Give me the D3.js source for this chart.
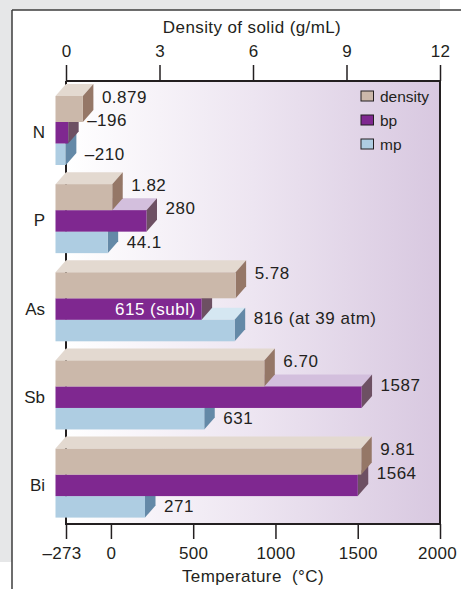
<!DOCTYPE html>
<html>
<head>
<meta charset="utf-8">
<script src="https://cdn.jsdelivr.net/npm/d3@7"></script>
<style>
  html, body { margin: 0; padding: 0; background: #ffffff; }
  svg { display: block; font-family: Arial, "Liberation Sans", Helvetica, sans-serif; }
</style>
</head>
<body>
<svg id="chart" width="461" height="589"></svg>
<script>
// ---- data ----
const elements = ["N", "P", "As", "Sb", "Bi"];
const density = [0.879, 1.82, 5.78, 6.70, 9.81];
const densityLabels = ["0.879", "1.82", "5.78", "6.70", "9.81"];
const bp = [-196, 280, 615, 1587, 1564];
const bpLabels = ["\u2013196", "280", "615 (subl)", "1587", "1564"];
const mp = [-210, 44.1, 816, 631, 271];
const mpLabels = ["\u2013210", "44.1", "816 (at 39 atm)", "631", "271"];
const densityTicks = [0, 3, 6, 9, 12];
const tempTicks = [-273, 0, 500, 1000, 1500, 2000];
const tempTickLabels = ["\u2013273", "0", "500", "1000", "1500", "2000"];
const seriesNames = ["density", "bp", "mp"];

// ---- layout ----
const svg = d3.select("#chart");
const W = 461, H = 589;
const pLeft = 66, pRight = 440, pTop = 81, pBottom = 524;
const ink = "#231f20";

const xD = d3.scaleLinear().domain([0, 12]).range([pLeft, pRight]);
const xT = d3.scaleLinear().domain([-273, 2000]).range([pLeft, pRight]);
const yB = d3.scaleBand().domain(elements).range([pTop, 521.75]).padding(0);

const DX = 10.5, DY = 12;

const colors = {
  density: { front: "#cbb8aa", top: "#e3d9d0", side: "#957767" },
  bp:      { front: "#7f2890", top: "#d3bfdd", side: "#6d5063" },
  mp:      { front: "#aecde2", top: "#d5e7f2", side: "#6489a7" }
};

// card background
svg.append("rect").attr("x", 0).attr("y", 0).attr("width", 440).attr("height", 10).attr("fill", "#e6e7e8");
svg.append("rect").attr("x", 0).attr("y", 0).attr("width", 12).attr("height", 562).attr("fill", "#e6e7e8");
svg.append("line").attr("x1", 12).attr("x2", 12).attr("y1", 10).attr("y2", H).attr("stroke", "#3d3d3d").attr("stroke-width", 1.5);
svg.append("line").attr("x1", 12).attr("x2", W).attr("y1", 10).attr("y2", 10).attr("stroke", "#3d3d3d").attr("stroke-width", 1.5);

// plot gradient
const defs = svg.append("defs");
const grad = defs.append("linearGradient").attr("id", "bg").attr("x1", "0").attr("x2", "1").attr("y1", "0").attr("y2", "0");
grad.append("stop").attr("offset", "0").attr("stop-color", "#ffffff");
grad.append("stop").attr("offset", "0.5").attr("stop-color", "#ede5f1");
grad.append("stop").attr("offset", "1").attr("stop-color", "#d8c8e0");
svg.append("rect").attr("x", pLeft).attr("y", pTop).attr("width", pRight - pLeft).attr("height", pBottom - pTop).attr("fill", "url(#bg)");

// left axis line (behind bars)
svg.append("line").attr("x1", pLeft).attr("x2", pLeft).attr("y1", pTop).attr("y2", pBottom + 1).attr("stroke", ink).attr("stroke-width", 2);

// frame top/right/bottom
svg.append("path")
  .attr("d", `M${pLeft},${pTop}H${pRight}V${pBottom}H${pLeft - 1}`)
  .attr("fill", "none").attr("stroke", ink).attr("stroke-width", 2);

// ---- bars ----
const rows = elements.map((el, i) => ({
  el,
  b: yB(el),
  items: [
    { key: "density", xEnd: xD(density[i]), label: densityLabels[i], y0: 15, h: 26 },
    { key: "bp", xEnd: xT(bp[i]), label: bpLabels[i], y0: 41, h: 21.5, inside: bpLabels[i].includes("subl") },
    { key: "mp", xEnd: xT(mp[i]), label: mpLabels[i], y0: 62.5, h: 21.5, front: mp[i] < bp[i] }
  ]
}));

const gBars = svg.append("g");
rows.forEach(r => {
  // draw mp, then bp, then density so upper bars occlude faces behind
  [2, 1, 0].forEach(k => {
    const it = r.items[k];
    const c = colors[it.key];
    const x0 = pLeft - DX;            // front-face left
    const x1 = it.xEnd - DX;          // front-face right
    const yt = r.b + it.y0, yb = yt + it.h;
    const g = gBars.append("g");
    g.append("path").attr("d", `M${x0},${yt}L${x0 + DX},${yt - DY}L${x1 + DX},${yt - DY}L${x1},${yt}Z`).attr("fill", c.top);
    g.append("path").attr("d", `M${x1},${yt}L${x1 + DX},${yt - DY}L${x1 + DX},${yb - DY}L${x1},${yb}Z`).attr("fill", c.side);
    g.append("rect").attr("x", x0).attr("y", yt).attr("width", x1 - x0).attr("height", it.h).attr("fill", c.front);
  });
});

// value labels
const gLab = svg.append("g").attr("font-size", 17).attr("letter-spacing", "0.5px").attr("fill", ink);
rows.forEach(r => {
  r.items.forEach(it => {
    const yt = r.b + it.y0;
    if (it.inside) {
      gLab.append("text").attr("x", it.xEnd - DX - 6).attr("y", yt + it.h / 2)
        .attr("text-anchor", "end").attr("dominant-baseline", "central").attr("fill", "#ffffff").text(it.label);
      return;
    }
    let cy;
    if (it.key === "mp" && it.front) cy = yt + it.h / 2;          // beside front face
    else cy = yt - DY + it.h / 2;                                   // beside back face
    gLab.append("text").attr("x", it.xEnd + 8.5).attr("y", cy)
      .attr("dominant-baseline", "central").text(it.label);
  });
});

// category labels
svg.append("g").selectAll("text").data(rows).join("text")
  .attr("x", 45).attr("y", d => d.b + 41 + 10.75)
  .attr("text-anchor", "end").attr("dominant-baseline", "central")
  .attr("font-size", 17).attr("fill", ink).text(d => d.el);

// ---- axes ----
const axTop = svg.append("g").attr("transform", `translate(0,${pTop})`)
  .call(d3.axisTop(xD).tickValues(densityTicks).tickSize(16).tickPadding(8.3).tickFormat(d3.format("d")));
axTop.select(".domain").remove();
axTop.selectAll(".tick line").attr("stroke", ink).attr("stroke-width", 1.5);
axTop.selectAll(".tick text").attr("font-size", 17).attr("font-family", null).attr("fill", ink).attr("letter-spacing", "0.3px");

const axBot = svg.append("g").attr("transform", `translate(0,${pBottom})`)
  .call(d3.axisBottom(xT).tickValues(tempTicks).tickSize(15).tickPadding(7.9).tickFormat((d, i) => tempTickLabels[i]));
axBot.select(".domain").remove();
axBot.selectAll(".tick line").attr("stroke", ink).attr("stroke-width", 1.5);
axBot.selectAll(".tick text").attr("font-size", 17).attr("font-family", null).attr("fill", ink).attr("letter-spacing", "0.3px")
  .attr("dx", (d, i) => i === 0 ? -4.5 : (i === tempTicks.length - 1 ? -3 : 0));

// titles
svg.append("text").attr("x", 252).attr("y", 33).attr("text-anchor", "middle")
  .attr("font-size", 17).attr("letter-spacing", "0.4px").attr("fill", ink).text("Density of solid (g/mL)");
svg.append("text").attr("x", 253).attr("y", 581.5).attr("text-anchor", "middle")
  .attr("font-size", 17).attr("letter-spacing", "0.4px").attr("fill", ink)
  .style("white-space", "pre").text("Temperature  (\u00b0C)");

// ---- legend ----
const lg = svg.append("g");
seriesNames.forEach((s, i) => {
  const cy = 96 + i * 24;
  lg.append("rect").attr("x", 361).attr("y", cy - 5).attr("width", 12.5).attr("height", 10)
    .attr("fill", colors[s].front).attr("stroke", ink).attr("stroke-width", 1);
  lg.append("text").attr("x", 380).attr("y", cy).attr("dominant-baseline", "central")
    .attr("font-size", 15.5).attr("fill", ink).text(s);
});
</script>
</body>
</html>
